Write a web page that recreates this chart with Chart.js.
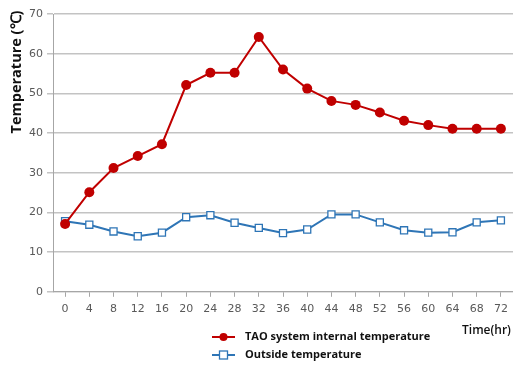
<!DOCTYPE html>
<html lang="en">
<head>
  <meta charset="UTF-8" />
  <title>Temperature over time</title>
  <script src="https://cdn.jsdelivr.net/npm/chart.js"></script>
  <style>
    html, body { margin: 0; padding: 0; background: #fff; overflow: hidden; }
    canvas { display: block; }
  </style>
</head>
<body>
<canvas id="tempChart" width="513" height="366"></canvas>

<script>
  // hours
  const hours = ['0','4','8','12','16','20','24','28','32','36','40','44','48','52','56','60','64','68','72'];
  const taoInternal = [17.1, 25.1, 31.2, 34.2, 37.2, 52.1, 55.2, 55.2, 64.2, 56.0, 51.2, 48.1, 47.1, 45.2, 43.1, 42.0, 41.1, 41.1, 41.1];
  const outside = [17.8, 16.9, 15.2, 14.0, 14.9, 18.8, 19.3, 17.4, 16.1, 14.8, 15.7, 19.5, 19.5, 17.5, 15.5, 14.9, 15.0, 17.5, 18.0];
  const yTicks = [0, 10, 20, 30, 40, 50, 60, 70];

  const RED = '#c00000';
  const BLUE = '#2e75b6';
  const GRID = '#c3c3c3';

  // legend, axis titles drawn on the canvas
  const extraText = {
    id: 'extraText',
    afterDraw(chart) {
      const ctx = chart.ctx;
      ctx.save();
      // y title
      ctx.translate(17, 72);
      ctx.rotate(-Math.PI / 2);
      ctx.font = 'bold 14.5px "Open Sans", sans-serif';
      ctx.fillStyle = '#111';
      ctx.textAlign = 'center';
      ctx.textBaseline = 'middle';
      ctx.fillText('Temperature (\u2103)', 0, 0);
      ctx.restore();

      ctx.save();
      ctx.font = '600 12px "Open Sans", sans-serif';
      ctx.fillStyle = '#111';
      ctx.textBaseline = 'middle';
      ctx.fillText('Time(hr)', 462, 331);

      ctx.font = 'bold 11px "Open Sans", sans-serif';
      // legend row 1
      ctx.strokeStyle = RED;
      ctx.lineWidth = 2;
      ctx.beginPath(); ctx.moveTo(212, 337); ctx.lineTo(235, 337); ctx.stroke();
      ctx.fillStyle = RED;
      ctx.beginPath(); ctx.arc(223.5, 337, 4, 0, Math.PI * 2); ctx.fill();
      ctx.fillStyle = '#111';
      ctx.fillText('TAO system internal temperature', 245, 337);

      // legend row 2
      ctx.strokeStyle = BLUE;
      ctx.beginPath(); ctx.moveTo(212, 355); ctx.lineTo(235, 355); ctx.stroke();
      ctx.fillStyle = '#fff';
      ctx.fillRect(219.5, 351, 8, 8);
      ctx.lineWidth = 1.3;
      ctx.strokeRect(219.5, 351, 8, 8);
      ctx.fillStyle = '#111';
      ctx.fillText('Outside temperature', 245, 355);
      ctx.restore();
    }
  };

  new Chart(document.getElementById('tempChart'), {
    type: 'line',
    data: {
      labels: hours,
      datasets: [
        {
          label: 'TAO system internal temperature',
          data: taoInternal,
          borderColor: RED,
          backgroundColor: RED,
          borderWidth: 2,
          pointStyle: 'circle',
          pointRadius: 5,
          pointBorderWidth: 0,
          tension: 0
        },
        {
          label: 'Outside temperature',
          data: outside,
          borderColor: BLUE,
          backgroundColor: '#fff',
          borderWidth: 2,
          pointStyle: 'rect',
          pointRadius: 5,
          pointBorderWidth: 1.3,
          tension: 0
        }
      ]
    },
    options: {
      responsive: false,
      animation: false,
      devicePixelRatio: 1,
      layout: { autoPadding: false, padding: { top: 14, right: 0, bottom: 44, left: 0 } },
      plugins: { legend: { display: false }, tooltip: { enabled: false } },
      scales: {
        x: {
          type: 'category',
          offset: true,
          afterFit: s => { s.paddingRight = 0; s.paddingLeft = 0; },
          grid: { display: true, drawOnChartArea: false, offset: false, tickLength: 5, color: '#a6a6a6' },
          border: { color: '#a6a6a6', width: 1 },
          ticks: { color: '#595959', font: { size: 11, family: '"DejaVu Sans", sans-serif' }, padding: 6, maxRotation: 0, autoSkip: false }
        },
        y: {
          min: 0,
          max: 70,
          afterBuildTicks: s => { s.ticks = yTicks.map(v => ({ value: v })); },
          afterFit: s => { s.width = 53; },
          grid: { color: GRID, lineWidth: 1.5, tickLength: 6 },
          border: { color: '#a6a6a6', width: 1 },
          ticks: { color: '#595959', font: { size: 11, family: '"DejaVu Sans", sans-serif' }, padding: 4 }
        }
      }
    },
    plugins: [extraText]
  });
</script>
</body>
</html>
